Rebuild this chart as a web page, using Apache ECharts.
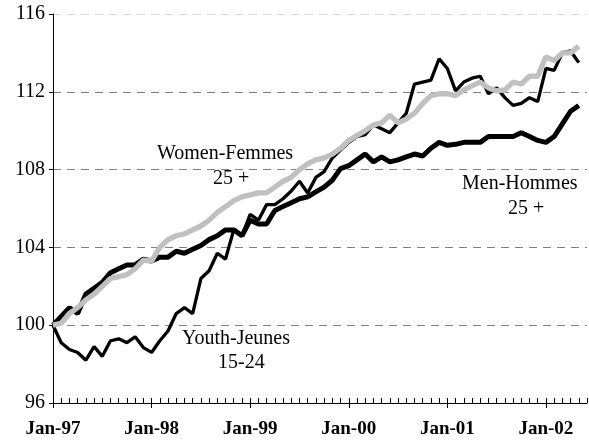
<!DOCTYPE html>
<html>
<head>
<meta charset="utf-8">
<script src="https://cdn.jsdelivr.net/npm/echarts@6/dist/echarts.min.js"></script>
<style>
  html, body { margin: 0; padding: 0; background: #fff; }
  #chart-div { width: 589px; height: 443px; }
</style>
</head>
<body>
<div id="chart-div"></div>
<script>
// kuukaudet Jan-97 ... Jun-02
const years = ['97', '98', '99', '00', '01', '02']
const monthNames = ['Jan', 'Feb', 'Mar', 'Apr', 'May', 'Jun', 'Jul', 'Aug', 'Sep', 'Oct', 'Nov', 'Dec']
const months = []
years.forEach(y => monthNames.forEach(m => months.push(`${m}-${y}`)))
months.splice(66) // viimeinen kuukausi Jun-02

const yTicks = [96, 100, 104, 108, 112, 116]

const youth = [
  100.0, 99.1, 98.75, 98.6, 98.2, 98.9, 98.4, 99.2, 99.3, 99.1, 99.4, 98.85,
  98.6, 99.2, 99.7, 100.6, 100.9, 100.6, 102.4, 102.8, 103.7, 103.4, 104.9, 104.6,
  105.7, 105.4, 106.2, 106.2, 106.5, 106.9, 107.4, 106.8, 107.6, 107.9, 108.6, 109.0,
  109.4, 109.7, 109.8, 110.3, 110.1, 109.9, 110.4, 110.9, 112.4, 112.5, 112.6, 113.7,
  113.2, 112.05, 112.5, 112.7, 112.8, 111.9, 112.2, 111.7, 111.3, 111.4, 111.7, 111.5,
  113.2, 113.1, 114.0, 114.1, 113.5
]

const men = [
  100.0, 100.45, 100.9, 100.6, 101.6, 101.9, 102.2, 102.7, 102.9, 103.1, 103.1, 103.4,
  103.3, 103.5, 103.5, 103.8, 103.7, 103.9, 104.1, 104.4, 104.6, 104.9, 104.9, 104.6,
  105.4, 105.2, 105.2, 105.9, 106.1, 106.3, 106.5, 106.6, 106.85, 107.1, 107.45, 108.05,
  108.2, 108.5, 108.8, 108.4, 108.65, 108.4, 108.5, 108.65, 108.8, 108.7, 109.1, 109.4,
  109.25, 109.3, 109.4, 109.4, 109.4, 109.7, 109.7, 109.7, 109.7, 109.9, 109.7, 109.5,
  109.4, 109.7, 110.35, 111.0, 111.3
]

const women = [
  100.0, 100.1, 100.6, 100.9, 101.3, 101.6, 102.0, 102.4, 102.5, 102.6, 102.9, 103.35,
  103.3, 104.0, 104.4, 104.6, 104.7, 104.9, 105.1, 105.4, 105.8, 106.1, 106.4, 106.6,
  106.7, 106.8, 106.8, 107.1, 107.4, 107.6, 108.0, 108.3, 108.5, 108.6, 108.8, 109.1,
  109.5, 109.75, 110.0, 110.3, 110.4, 110.8, 110.4, 110.6, 110.9, 111.4, 111.8, 111.9,
  111.9, 111.8, 112.1, 112.3, 112.5, 112.2, 112.05, 112.1, 112.5, 112.4, 112.8, 112.8,
  113.8, 113.6, 114.0, 114.0, 114.35
]

const serif = '"Liberation Serif", "DejaVu Serif", serif'

let myChart = echarts.init(document.getElementById('chart-div'))

const option = {
  animation: false,
  backgroundColor: '#fff',
  grid: { left: 53, right: 2, top: 14, bottom: 40 },
  xAxis: [
    {
      type: 'category',
      data: months,
      boundaryGap: false,
      axisLine: { lineStyle: { color: '#000', width: 1 } },
      axisTick: { inside: true, length: 5, interval: 0, lineStyle: { color: '#000' } },
      axisLabel: {
        interval: (i) => i % 12 === 0,
        margin: 17,
        fontFamily: serif,
        fontWeight: 'bold',
        fontSize: 19,
        color: '#000'
      },
      splitLine: { show: false }
    },
    {
      // isommat tikit tammikuille
      type: 'category',
      data: months,
      boundaryGap: false,
      position: 'bottom',
      axisLine: { show: false },
      axisTick: { inside: false, length: 5, interval: (i) => i % 12 === 0, lineStyle: { color: '#000' } },
      axisLabel: { show: false },
      splitLine: { show: false }
    }
  ],
  yAxis: {
    type: 'value',
    min: yTicks[0],
    max: yTicks[yTicks.length - 1],
    interval: 4,
    axisLine: { show: true, lineStyle: { color: '#000', width: 1 } },
    axisTick: { show: true, length: 4, lineStyle: { color: '#000' } },
    axisLabel: { margin: 8, fontFamily: serif, fontSize: 20, color: '#000' },
    splitLine: {
      show: true,
      lineStyle: {
        color: ['#808080', '#808080', '#808080', '#808080', '#808080', '#d8d8d8'],
        type: [8, 6],
        width: 1
      }
    }
  },
  series: [
    {
      name: 'Youth-Jeunes 15-24',
      type: 'line',
      data: youth,
      showSymbol: false,
      lineStyle: { color: '#000', width: 3.3 },
      z: 3
    },
    {
      name: 'Men-Hommes 25 +',
      type: 'line',
      data: men,
      showSymbol: false,
      lineStyle: { color: '#000', width: 5 },
      z: 2
    },
    {
      name: 'Women-Femmes 25 +',
      type: 'line',
      data: women,
      showSymbol: false,
      lineStyle: { color: '#c0c0c0', width: 5.3 },
      z: 4
    }
  ],
  graphic: [
    { type: 'text', left: 157, top: 144, style: { text: 'Women-Femmes', font: '20px ' + serif, fill: '#000' } },
    { type: 'text', left: 213, top: 169, style: { text: '25 +', font: '20px ' + serif, fill: '#000' } },
    { type: 'text', left: 182, top: 329, style: { text: 'Youth-Jeunes', font: '20px ' + serif, fill: '#000' } },
    { type: 'text', left: 218, top: 353, style: { text: '15-24', font: '20px ' + serif, fill: '#000' } },
    { type: 'text', left: 462, top: 174, style: { text: 'Men-Hommes', font: '20px ' + serif, fill: '#000' } },
    { type: 'text', left: 508, top: 199, style: { text: '25 +', font: '20px ' + serif, fill: '#000' } }
  ]
}

myChart.setOption(option)
</script>
</body>
</html>
